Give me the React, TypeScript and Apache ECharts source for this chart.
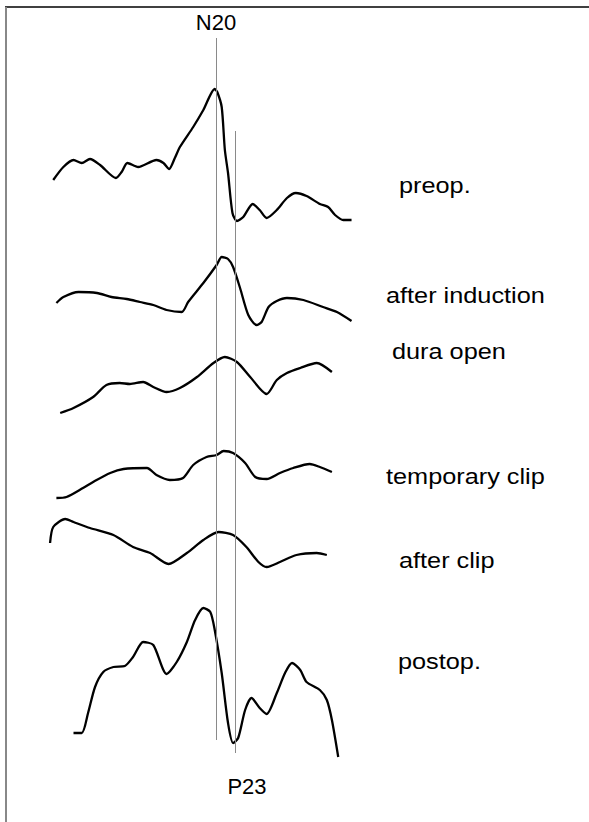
import React, { useEffect, useRef } from "react";
import * as echarts from "echarts";

// Time (ms) and amplitude (a.u.) for each recording
const preopT = [-5.7, -4.1, -2.5, -1.2, 0.1, 1.7, 4.2, 5.1, 6.0, 7.7, 10.6, 11.7, 12.6, 13.5, 14.3, 16.4, 18.0, 19.8, 20.2, 20.9, 21.4, 21.9, 22.6, 23.3, 24.3, 25.8, 26.9, 28.0, 29.6, 31.2, 32.6, 34.3, 36.4, 37.7, 38.8, 40.1, 41.4];
const preopV = [10, 23, 30, 27, 31, 25, 12, 18, 27, 23, 30, 27, 21, 32, 43, 63, 80, 101, 98, 83, 40, 17, -23, -31, -27, -14, -20, -28, -20, -8, -3, -6, -14, -17, -25, -30, -30];

const inductionT = [-5.2, -4.1, -1.7, 1.2, 3.5, 5.9, 8.0, 10.1, 12.2, 14.6, 15.6, 18.0, 20.1, 20.9, 21.9, 22.7, 23.8, 25.1, 26.4, 27.2, 28.3, 29.6, 31.2, 33.8, 36.9, 39.1, 41.4];
const inductionV = [-3, 3, 8, 7, 3, 1, -2, -5, -10, -12, -2, 17, 35, 43, 41, 33, 12, -15, -25, -22, -7, -1, 2, 0, -7, -12, -21];

const duraT = [-4.6, -2.5, 0.6, 2.7, 4.8, 6.4, 8.5, 10.1, 12.2, 14.3, 17.0, 19.6, 21.4, 23.3, 25.4, 28.0, 29.6, 31.2, 33.3, 35.9, 38.3];
const duraV = [-28, -23, -12, 0, 2, 1, 3, -2, -7, -3, 8, 22, 28, 23, 8, -9, 5, 12, 17, 22, 13];

const tempClipT = [-5.2, -3.6, -1.0, 0.6, 3.3, 5.4, 9.1, 10.6, 12.7, 14.8, 16.4, 18.5, 20.1, 21.2, 22.7, 24.6, 26.2, 28.0, 30.1, 32.2, 34.8, 36.4, 38.3];
const tempClipV = [-23, -22, -13, -7, 2, 6, 7, 0, -5, -3, 10, 18, 20, 24, 22, 12, -2, -4, 2, 7, 11, 8, 3];

const afterClipT = [-6.2, -5.7, -3.8, -2.5, 0.1, 3.8, 6.9, 9.6, 12.5, 15.4, 18.0, 20.4, 22.7, 24.8, 26.7, 28.0, 30.1, 32.7, 35.9, 37.5];
const afterClipV = [2, 18, 26, 23, 17, 10, -2, -8, -19, -8, 5, 13, 10, -2, -17, -22, -17, -10, -8, -10];

const postopT = [-2.5, -1.2, -0.2, 0.9, 2.2, 3.8, 5.6, 6.9, 8.5, 10.1, 12.2, 13.8, 15.4, 16.7, 18.0, 19.1, 19.8, 20.9, 21.9, 22.7, 23.5, 24.6, 25.6, 26.9, 28.0, 29.6, 30.9, 32.0, 33.3, 34.3, 36.4, 37.5, 38.3, 39.3];
const postopV = [-43, -43, -23, 3, 18, 23, 24, 33, 48, 45, 16, 28, 48, 70, 82, 78, 60, 17, -33, -53, -48, -20, -8, -18, -24, -3, 17, 27, 20, 8, 0, -10, -30, -67];

const traceNames = ["preop.", "after induction", "dura open", "temporary clip", "after clip", "postop."];
const traceTimes = [preopT, inductionT, duraT, tempClipT, afterClipT, postopT];
const traceValues = [preopV, inductionV, duraV, tempClipV, afterClipV, postopV];
const peakNames = ["N20", "P23"];
const peakLatencies = [20, 23];

export default function App() {
  const ref = useRef<HTMLDivElement>(null);
  useEffect(() => {
    if (!ref.current) return;
    const chart = echarts.init(ref.current, undefined, { renderer: "svg" });
    const H = 822;
    // vertical stacking offsets of each trace (layout)
    const offsets = [632, 522, 437, 347, 277, 132];
    const labelPos = [
      [399, 186],
      [386, 296],
      [392, 352],
      [386, 477],
      [399, 561],
      [398, 662],
    ];
    const font = "Liberation Sans, Arial, sans-serif";
    const series: any[] = traceNames.map((name, i) => ({
      type: "line",
      name,
      data: traceTimes[i].map((t, j) => [t, offsets[i] + traceValues[i][j]]),
      showSymbol: false,
      symbol: "none",
      smooth: 0.25,
      lineStyle: { color: "#000", width: 2.3 },
      silent: true,
    }));
    series.push({
      type: "line",
      data: [],
      markLine: {
        silent: true,
        symbol: "none",
        label: { show: false },
        lineStyle: { color: "#8a8a8a", width: 1, type: "solid" },
        data: [
          [{ coord: [peakLatencies[0], H - 38] }, { coord: [peakLatencies[0], H - 740] }],
          [{ coord: [peakLatencies[1], H - 131] }, { coord: [peakLatencies[1], H - 753] }],
        ],
      },
    });
    chart.setOption({
      animation: false,
      backgroundColor: "#fff",
      grid: { left: 26, right: 183, top: 0, bottom: 0 },
      xAxis: { type: "value", min: -10, max: 50, show: false },
      yAxis: { type: "value", min: 0, max: H, show: false },
      series,
      graphic: [
        { type: "line", shape: { x1: 5, y1: 7, x2: 589, y2: 7 }, style: { stroke: "#000", lineWidth: 1.5 } },
        { type: "line", shape: { x1: 6, y1: 7, x2: 6, y2: 822 }, style: { stroke: "#888", lineWidth: 2 } },
        ...traceNames.map((name, i) => ({
          type: "text",
          x: labelPos[i][0],
          y: labelPos[i][1],
          scaleX: 1.15,
          style: { text: name, font: `22px ${font}`, fill: "#000", textVerticalAlign: "middle" },
        })),
        { type: "text", x: 216, y: 22, style: { text: peakNames[0], font: `22px ${font}`, fill: "#000", textAlign: "center", textVerticalAlign: "middle" } },
        { type: "text", x: 247, y: 786, style: { text: peakNames[1], font: `22px ${font}`, fill: "#000", textAlign: "center", textVerticalAlign: "middle" } },
      ],
    });
    return () => chart.dispose();
  }, []);
  return <div ref={ref} style={{ position: "fixed", left: 0, top: 0, width: 589, height: 822 }} />;
}
